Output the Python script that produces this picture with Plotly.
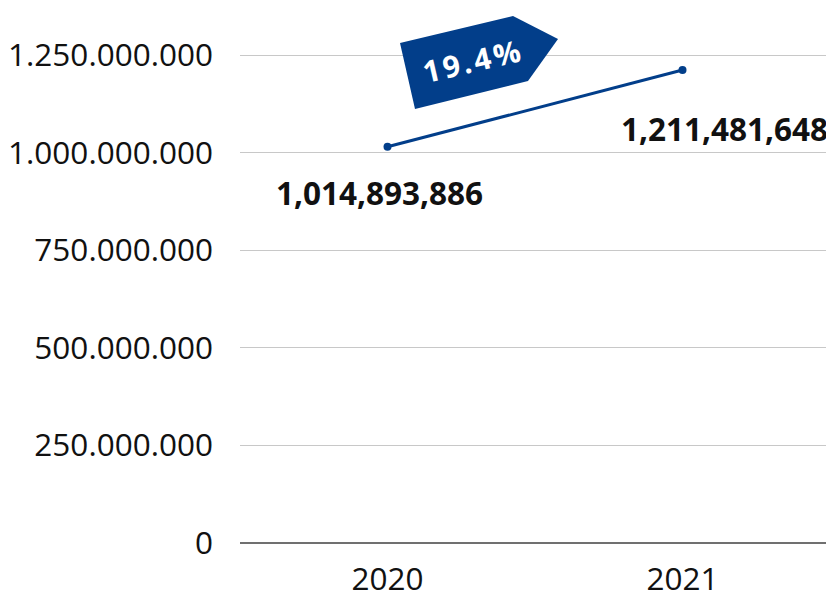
import plotly.graph_objects as go

years = ["2020", "2021"]
values = [1014893886, 1211481648]
growth_label = "19.4%"
tick_values = [0, 250e6, 500e6, 750e6, 1000e6, 1250e6]

BLUE = "#023e8a"
FONT = "Open Sans"

# page body has an 8px margin, so the figure is drawn 8px in from the top-left
OFF = 8
W, H = 834 - OFF, 592 - OFF
L, R, T, B = 240 - OFF, 4, 0, 592 - 543
pw, ph = W - L - R, H - T - B
YMAX = 1.25e9 * ph / (543 - 55)

fig = go.Figure()
fig.add_trace(go.Scatter(
    x=years, y=values, mode="lines+markers",
    line=dict(color=BLUE, width=3),
    marker=dict(color=BLUE, size=8),
    hoverinfo="skip",
))

# data labels (category index positions)
fig.add_annotation(x=0, y=values[0], text=f"<b>{values[0]:,}</b>",
                   showarrow=False, xanchor="center", yanchor="middle",
                   xshift=-8, yshift=-46, font=dict(family=FONT, size=31.5, color="#111"))
fig.add_annotation(x=1, y=values[1], text=f"<b>{values[1]:,}</b>",
                   showarrow=False, xanchor="right", yanchor="middle",
                   xshift=147, yshift=-58, font=dict(family=FONT, size=31.5, color="#111"))

# growth badge (screen pixel -> paper conversion)
def px(x): return (x - OFF - L) / pw
def py(y): return (H - B - (y - OFF)) / ph
pts = [(400, 43), (513, 16), (558, 39), (528, 81), (415, 109)]
path = "M " + " L ".join(f"{px(x)},{py(y)}" for x, y in pts) + " Z"
fig.add_shape(type="path", path=path, xref="paper", yref="paper",
              fillcolor=BLUE, line=dict(width=0), layer="above")
fig.add_annotation(x=px(473), y=py(61), xref="paper", yref="paper",
                   xanchor="center", yanchor="middle",
                   text=f"<span style='letter-spacing:3px'><b>{growth_label}</b></span>",
                   showarrow=False, textangle=-13,
                   font=dict(family=FONT, size=30, color="white"))

fig.update_layout(
    width=W, height=H, margin=dict(l=L, r=R, t=T, b=B, autoexpand=False),
    plot_bgcolor="white", paper_bgcolor="white",
    separators=",.",
    showlegend=False,
    font=dict(family=FONT, color="#111"),
    xaxis=dict(type="category", range=[-0.5, 1.5], showgrid=False,
               showline=False, zeroline=False, automargin=False,
               tickfont=dict(size=31.5, family=FONT, color="#111"),
               ticklabelstandoff=14, ticks=""),
    yaxis=dict(range=[0, YMAX], tickvals=tick_values, tickformat=",.0f",
               showgrid=True, gridcolor="#c8c8c8", gridwidth=1, automargin=False,
               zeroline=True, zerolinecolor="#707070", zerolinewidth=1.5,
               showline=False, ticks="",
               tickfont=dict(size=31.5, family=FONT, color="#111"),
               ticklabelstandoff=26),
)

fig.write_html("out.html")
